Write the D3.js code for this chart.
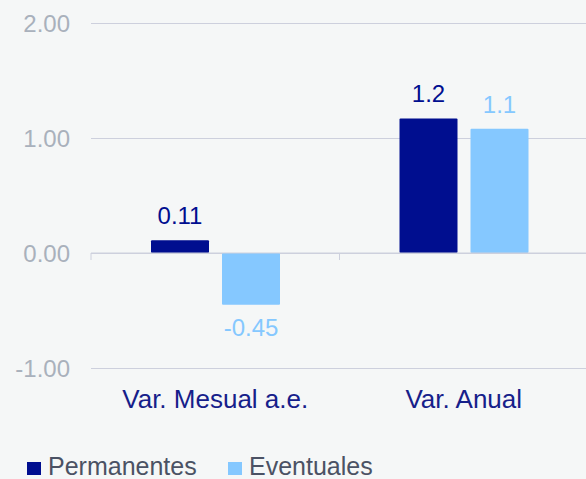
<!DOCTYPE html>
<html>
<head>
<meta charset="utf-8">
<script src="https://cdn.jsdelivr.net/npm/d3@7"></script>
<style>
  html, body { margin: 0; padding: 0; background: #f5f7f7; }
  svg { display: block; font-family: "Liberation Sans", Arial, sans-serif; }
</style>
</head>
<body>
<div id="chart"></div>
<script>
// categories, series and labels
const categories = ["Var. Mesual a.e.", "Var. Anual"];
const seriesNames = ["Permanentes", "Eventuales"];
const permanentes = [0.11, 1.17];
const eventuales = [-0.45, 1.08];
const valueLabels = [["0.11", "1.2"], ["-0.45", "1.1"]];
const yTicks = [-1, 0, 1, 2];

const colors = ["#000e8f", "#85c8ff"];

const W = 586, H = 479;
const margin = { top: 23, right: -2, bottom: 111, left: 91 };
const width = W - margin.left - margin.right;
const height = H - margin.top - margin.bottom;

const svg = d3.select("#chart").append("svg")
  .attr("width", W).attr("height", H);

const g = svg.append("g")
  .attr("transform", `translate(${margin.left},${margin.top})`);

const x0 = d3.scaleBand().domain(categories).range([0, width]);
const x1 = d3.scaleBand().domain(seriesNames).range([60, 189]).paddingInner(0.183);
const y = d3.scaleLinear().domain([-1, 2]).range([height, 0]);

// plain hyphen minus, like the original
const fmt = d => d.toFixed(2);

// gridlines + tick labels
g.append("g")
  .call(d3.axisLeft(y).tickValues(yTicks).tickSize(-width).tickFormat(fmt))
  .call(a => a.select(".domain").remove())
  .call(a => a.selectAll(".tick line").attr("stroke", "#cdd0dd").attr("stroke-width", 1))
  .call(a => a.selectAll(".tick text")
    .attr("x", -21)
    .attr("dy", "0.36em")
    .attr("fill", "#a9b1bc")
    .attr("font-size", "24px")
    .attr("font-family", "Liberation Sans, Arial, sans-serif"));

// bars
const data = categories.map((c, i) => ({
  cat: c,
  vals: [permanentes[i], eventuales[i]]
}));

const groups = g.selectAll(".grp").data(data).join("g")
  .attr("transform", d => `translate(${x0(d.cat)},0)`);

groups.selectAll("rect").data(d => d.vals.map((v, j) => ({ v, j }))).join("rect")
  .attr("x", d => x1(seriesNames[d.j]))
  .attr("width", x1.bandwidth())
  .attr("y", d => y(Math.max(0, d.v)))
  .attr("height", d => Math.abs(y(d.v) - y(0)))
  .attr("rx", 1)
  .attr("fill", d => colors[d.j]);

// value labels
groups.selectAll(".lbl").data((d, i) => d.vals.map((v, j) => ({ v, j, i }))).join("text")
  .attr("class", "lbl")
  .attr("x", d => x1(seriesNames[d.j]) + x1.bandwidth() / 2)
  .attr("y", d => d.v >= 0 ? y(d.v) - 16 : y(d.v) + 31)
  .attr("text-anchor", "middle")
  .attr("font-size", "24px")
  .attr("fill", d => colors[d.j])
  .text(d => valueLabels[d.j][d.i]);

// category axis at zero
g.append("line")
  .attr("x1", 0).attr("x2", width)
  .attr("y1", y(0)).attr("y2", y(0))
  .attr("stroke", "#cdd0dd");

g.selectAll(".sep").data([0, ...categories.map(c => x0(c) + x0.bandwidth())]).join("line")
  .attr("x1", d => d).attr("x2", d => d)
  .attr("y1", y(0)).attr("y2", y(0) + 7)
  .attr("stroke", "#cdd0dd");

// category labels
g.selectAll(".cat").data(categories).join("text")
  .attr("x", d => x0(d) + x0.bandwidth() / 2)
  .attr("y", height + 40)
  .attr("text-anchor", "middle")
  .attr("font-size", "26px")
  .attr("fill", "#16208a")
  .text(d => d);

// legend
const legend = svg.append("g").attr("transform", "translate(27,462)");
const items = legend.selectAll("g").data(seriesNames).join("g")
  .attr("transform", (d, i) => `translate(${i * 201},0)`);
items.append("rect").attr("width", 14).attr("height", 13).attr("fill", (d, i) => colors[i]);
items.append("text")
  .attr("x", 21).attr("y", 13)
  .attr("font-size", "25px")
  .attr("fill", "#4b5264")
  .text(d => d);
</script>
</body>
</html>
